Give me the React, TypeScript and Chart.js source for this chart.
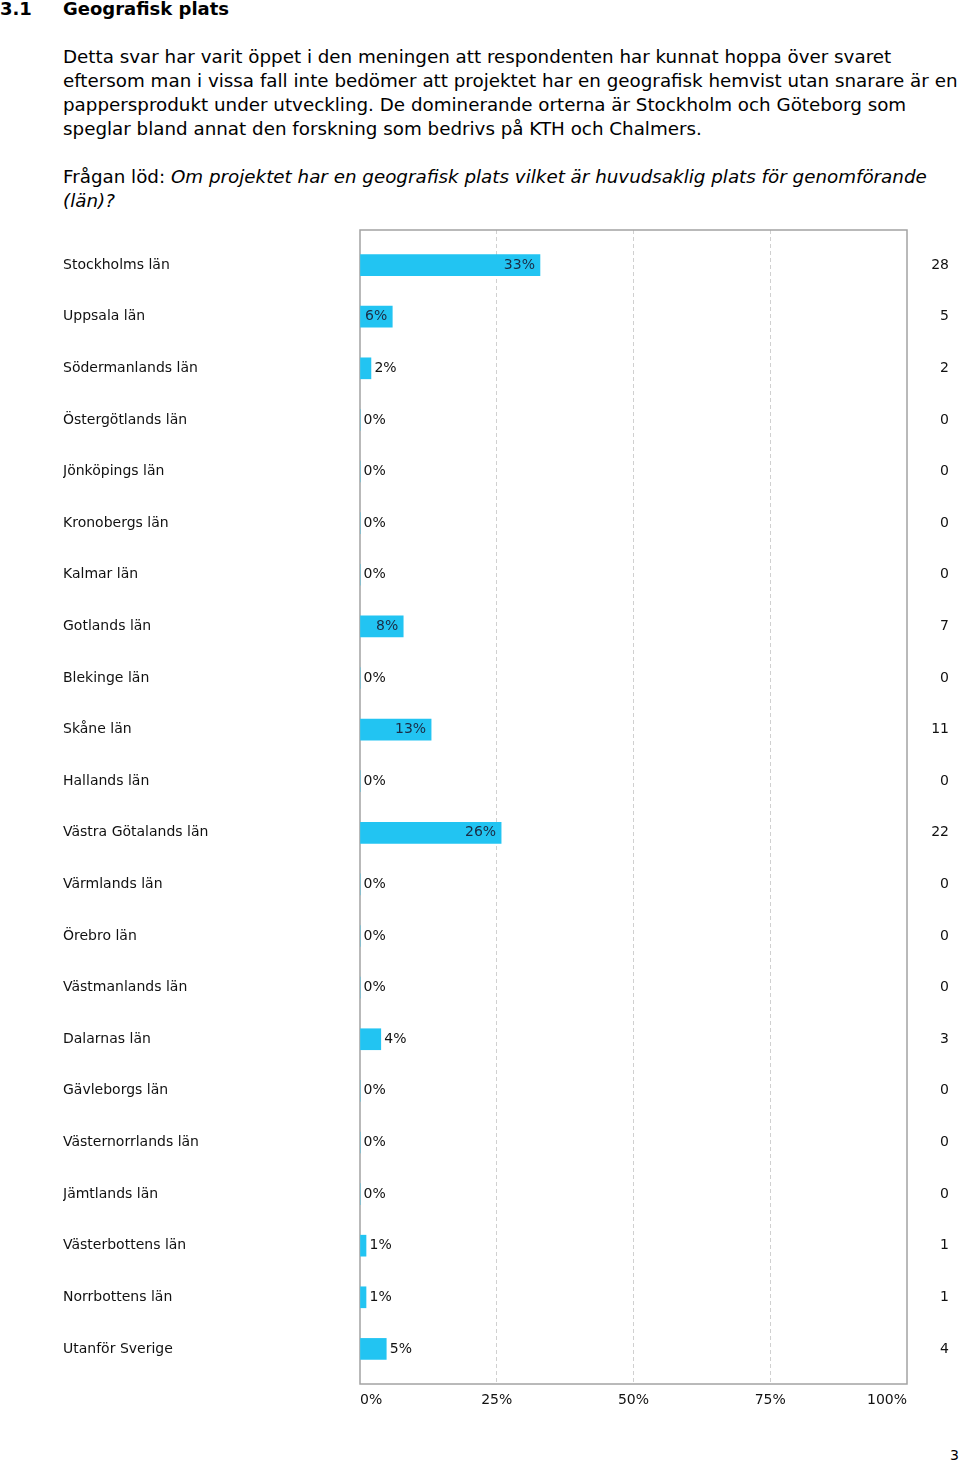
import React, { useEffect, useRef } from "react";
import { Chart, registerables } from "chart.js";

Chart.register(...registerables);

const categories = [
  "Stockholms län",
  "Uppsala län",
  "Södermanlands län",
  "Östergötlands län",
  "Jönköpings län",
  "Kronobergs län",
  "Kalmar län",
  "Gotlands län",
  "Blekinge län",
  "Skåne län",
  "Hallands län",
  "Västra Götalands län",
  "Värmlands län",
  "Örebro län",
  "Västmanlands län",
  "Dalarnas län",
  "Gävleborgs län",
  "Västernorrlands län",
  "Jämtlands län",
  "Västerbottens län",
  "Norrbottens län",
  "Utanför Sverige",
];

const percentValues = [32.9, 5.9, 2.0, 0, 0, 0, 0, 7.9, 0, 13.0, 0, 25.8, 0, 0, 0, 3.8, 0, 0, 0, 1.1, 1.1, 4.8];
const percentLabels = ["33%", "6%", "2%", "0%", "0%", "0%", "0%", "8%", "0%", "13%", "0%", "26%", "0%", "0%", "0%", "4%", "0%", "0%", "0%", "1%", "1%", "5%"];
const counts = [28, 5, 2, 0, 0, 0, 0, 7, 0, 11, 0, 22, 0, 0, 0, 3, 0, 0, 0, 1, 1, 4];
const xTicks = [0, 25, 50, 75, 100];

const FONT = "'DejaVu Sans', Verdana, sans-serif";

const frameAndLabels = {
  id: "frameAndLabels",
  beforeDatasetsDraw(chart: any) {
    const { ctx, chartArea } = chart;
    ctx.save();
    ctx.strokeStyle = "#a3a3a3";
    ctx.lineWidth = 1.5;
    ctx.strokeRect(chartArea.left, chartArea.top, chartArea.right - chartArea.left, chartArea.bottom - chartArea.top);
    ctx.restore();
  },
  afterDatasetsDraw(chart: any) {
    const { ctx } = chart;
    const meta = chart.getDatasetMeta(0);
    ctx.save();
    ctx.font = `14px ${FONT}`;
    ctx.textBaseline = "middle";
    meta.data.forEach((el: any, i: number) => {
      const text = percentLabels[i];
      const tw = ctx.measureText(text).width;
      const bw = el.x - el.base;
      if (tw + 6 <= bw) {
        ctx.fillStyle = "#1b2b44";
        ctx.textAlign = "right";
        ctx.fillText(text, el.x - 5, el.y);
      } else {
        ctx.fillStyle = "#111111";
        ctx.textAlign = "left";
        ctx.fillText(text, el.x + 3.5, el.y);
      }
    });
    ctx.restore();
  },
};

function BarChart() {
  const ref = useRef<HTMLCanvasElement | null>(null);
  useEffect(() => {
    if (!ref.current) return;
    const rowTicks = (scale: any) => {
      scale.ticks = categories.map((_, i) => ({ value: i }));
    };
    const chart = new Chart(ref.current, {
      type: "bar",
      data: {
        datasets: [
          {
            data: percentValues.map((v, i) => ({ x: v, y: i })) as any,
            backgroundColor: "#22c4f2",
            borderWidth: 0,
            barThickness: 21,
          },
        ],
      },
      options: {
        animation: false,
        responsive: false,
        indexAxis: "y",
        layout: { padding: { left: 63, right: 11, top: 9, bottom: 0 } },
        plugins: { legend: { display: false }, tooltip: { enabled: false } },
        scales: {
          x: {
            type: "linear",
            min: 0,
            max: 100,
            offset: false,
            afterBuildTicks: (scale: any) => {
              scale.ticks = xTicks.map((v) => ({ value: v }));
            },
            afterFit: (scale: any) => {
              scale.height = 37;
            },
            ticks: {
              callback: (v: any) => `${v}%`,
              align: "inner",
              padding: 8,
              color: "#111111",
              font: { family: FONT, size: 14 },
            },
            grid: {
              drawTicks: false,
              offset: false,
              color: (c: any) => (c.tick && (c.tick.value === 0 || c.tick.value === 100) ? "rgba(0,0,0,0)" : "#d0d0d0"),
              lineWidth: 1,
            },
            border: { display: false, dash: [4, 3] },
          } as any,
          y: {
            type: "linear",
            min: -0.68,
            max: 21.68,
            reverse: true,
            offset: false,
            position: "left",
            afterBuildTicks: rowTicks,
            afterFit: (scale: any) => {
              scale.width = 297;
              scale.paddingTop = 0;
              scale.paddingBottom = 0;
            },
            ticks: {
              autoSkip: false,
              crossAlign: "far",
              callback: (v: any) => categories[v] ?? "",
              color: "#111111",
              font: { family: FONT, size: 14 },
            },
            grid: { display: false, offset: false },
            border: { display: false },
          } as any,
          y2: {
            type: "linear",
            min: -0.68,
            max: 21.68,
            reverse: true,
            offset: false,
            position: "right",
            afterBuildTicks: rowTicks,
            afterFit: (scale: any) => {
              scale.width = 42;
              scale.paddingTop = 0;
              scale.paddingBottom = 0;
            },
            ticks: {
              autoSkip: false,
              crossAlign: "far",
              callback: (v: any) => String(counts[v] ?? ""),
              color: "#111111",
              font: { family: FONT, size: 14 },
            },
            grid: { display: false, offset: false },
            border: { display: false },
          } as any,
        },
      },
      plugins: [frameAndLabels],
    });
    return () => chart.destroy();
  }, []);
  return <canvas ref={ref} width={960} height={1200} style={{ position: "absolute", left: 0, top: 221, width: 960, height: 1200 }} />;
}

export default function App() {
  useEffect(() => {
    document.body.style.margin = "0";
  }, []);
  const text: React.CSSProperties = { position: "absolute", left: 63, whiteSpace: "nowrap", fontSize: 18.3, lineHeight: "24px", color: "#000" };
  return (
    <div style={{ position: "relative", width: 960, height: 1463, fontFamily: FONT, background: "#fff", overflow: "hidden" }}>
      <div style={{ position: "absolute", left: 0, top: -3, fontSize: 18, lineHeight: "24px", fontWeight: "bold", whiteSpace: "nowrap" }}>3.1</div>
      <div style={{ position: "absolute", left: 63, top: -3, fontSize: 18, lineHeight: "24px", fontWeight: "bold", whiteSpace: "nowrap" }}>Geografisk plats</div>
      <div style={{ ...text, top: 45 }}>
        Detta svar har varit öppet i den meningen att respondenten har kunnat hoppa över svaret
        <br />
        eftersom man i vissa fall inte bedömer att projektet har en geografisk hemvist utan snarare är en
        <br />
        pappersprodukt under utveckling. De dominerande orterna är Stockholm och Göteborg som
        <br />
        speglar bland annat den forskning som bedrivs på KTH och Chalmers.
      </div>
      <div style={{ ...text, top: 165 }}>
        Frågan löd: <i>Om projektet har en geografisk plats vilket är huvudsaklig plats för genomförande</i>
        <br />
        <i>(län)?</i>
      </div>
      <BarChart />
      <div style={{ position: "absolute", left: 950, top: 1446, fontSize: 14, lineHeight: "18px" }}>3</div>
    </div>
  );
}
